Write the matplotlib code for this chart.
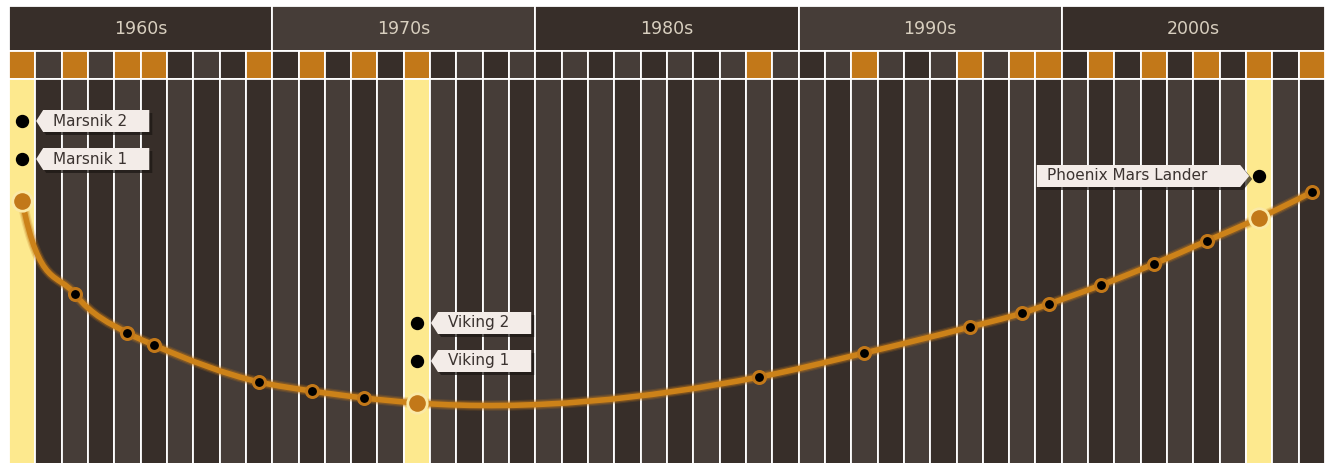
import matplotlib
matplotlib.use("Agg")
import matplotlib.pyplot as plt
import numpy as np
import matplotlib.patheffects as pe
from matplotlib.path import Path
from matplotlib.patches import PathPatch, Polygon
from matplotlib.transforms import IdentityTransform

# years with a launch (orange square) and the curve value read at each one
launch_years = [1960, 1962, 1964, 1965, 1969, 1971, 1973, 1975, 1988, 1992,
                1996, 1998, 1999, 2001, 2003, 2005, 2007, 2009]
curve_vals = [262, 169, 130, 118, 81, 72, 65, 60, 86, 110,
              136, 150, 159, 178, 199, 222, 245, 271]

decades = [1960, 1970, 1980, 1990, 2000]
decade_labels = ["1960s", "1970s", "1980s", "1990s", "2000s"]

mission_names = ["Marsnik 1", "Marsnik 2", "Viking 1", "Viking 2", "Phoenix Mars Lander"]
mission_years = [1960, 1960, 1975, 1975, 2007]

first_year, last_year = 1960, 2009

# colours
dark = "#372e29"
light = "#463d38"
orange = "#c27819"
line_c = "#cc8219"
yellow = "#fde98e"
pale = "#fbe9a6"
box_c = "#f3ece8"
txt_c = "#3b3330"
head_txt = "#d8cfbf"

W, H = 1325, 463
left_px = 9
colw = (W - left_px) / (last_year - first_year + 1)

fig = plt.figure(figsize=(W / 100, H / 100), dpi=100)
ax = fig.add_axes([0, 0, 1, 1])
ax.set_xlim(first_year - left_px / colw, last_year + 1)
ax.set_ylim(H, 0)
ax.axis("off")

years = np.arange(first_year, last_year + 1)
highlight = sorted(set(mission_years))

# decade header
ax.bar(decades, 45, bottom=6, width=10, align="edge",
       color=[dark if i % 2 == 0 else light for i in range(len(decades))],
       edgecolor="white", linewidth=1.3)
for d, lab in zip(decades, decade_labels):
    ax.text(d + 5, 29, lab, ha="center", va="center", fontsize=12.5, color=head_txt)

# launch squares
sq_cols = [orange if y in launch_years else (light if y % 2 else dark) for y in years]
ax.bar(years, 28, bottom=51, width=1, align="edge", color=sq_cols,
       edgecolor="white", linewidth=1.3)

# year columns
col_cols = [yellow if y in highlight else (dark if y % 2 else light) for y in years]
ax.bar(years, 420, bottom=79, width=1, align="edge", color=col_cols,
       edgecolor="white", linewidth=1.3)

# curve axes over the column area
axc = fig.add_axes([0, 0, 1, (H - 80) / H])
axc.set_xlim(ax.get_xlim())
axc.set_ylim(0, H - 80)
axc.axis("off")
axc.patch.set_visible(False)

xs = np.array(launch_years) + 0.5
ys = np.array(curve_vals, dtype=float)
m = np.gradient(ys, xs, edge_order=2)
m[0] *= 2.2  # curve leaves the first point almost vertically
verts = [(xs[0], ys[0])]
codes = [Path.MOVETO]
for i in range(len(xs) - 1):
    dx = xs[i + 1] - xs[i]
    verts += [(xs[i] + dx / 3, ys[i] + m[i] * dx / 3),
              (xs[i + 1] - dx / 3, ys[i + 1] - m[i + 1] * dx / 3),
              (xs[i + 1], ys[i + 1])]
    codes += [Path.CURVE4] * 3
line = PathPatch(Path(verts, codes), fill=False, edgecolor=line_c, lw=4.0,
                 capstyle="round", zorder=3,
                 path_effects=[pe.Stroke(linewidth=7.5, foreground=orange, alpha=0.2),
                               pe.Stroke(linewidth=5.8, foreground=orange, alpha=0.35),
                               pe.Normal()])
axc.add_patch(line)

big = np.isin(launch_years, highlight)
axc.plot(xs[~big], ys[~big], "o", ms=8.6, mfc="black", mec=orange, mew=2.2, zorder=4)
axc.plot(xs[big], ys[big], "o", ms=14, mfc=orange, mec=pale, mew=2, zorder=4)

# mission labels
renderer = fig.canvas.get_renderer()
to_px = IdentityTransform()
for yr in highlight:
    names = [n for n, y in zip(mission_names, mission_years) if y == yr]
    px, py = axc.transData.transform((yr + 0.5, curve_vals[launch_years.index(yr)]))
    on_left = px > W * 0.8
    for k, name in enumerate(names):
        ly = py + 42 + 38 * k
        ax.plot([px], [ly], "o", ms=8.6, color="black", transform=to_px,
                clip_on=False, zorder=6)
        if on_left:
            tip = px - 10
            body_r = tip - 9
            t = ax.text(body_r - 33, ly, name, transform=to_px, ha="right", va="center",
                        fontsize=11, color=txt_c, zorder=9)
            w = t.get_window_extent(renderer).width
            body_l = body_r - 33 - w - 10
            pts = [(tip, ly), (body_r, ly + 11), (body_l, ly + 11),
                   (body_l, ly - 11), (body_r, ly - 11)]
        else:
            tip = px + 14
            body_l = tip + 7
            t = ax.text(tip + 17, ly, name, transform=to_px, ha="left", va="center",
                        fontsize=11, color=txt_c, zorder=9)
            w = t.get_window_extent(renderer).width
            body_r = tip + 17 + w + 22
            pts = [(tip, ly), (body_l, ly + 11), (body_r, ly + 11),
                   (body_r, ly - 11), (body_l, ly - 11)]
        shadow = [(x + 3, y - 3) for x, y in pts]
        ax.add_patch(Polygon(shadow, closed=True, transform=to_px, facecolor="#1b1613",
                             edgecolor="none", alpha=0.7, zorder=7, clip_on=False))
        ax.add_patch(Polygon(pts, closed=True, transform=to_px, facecolor=box_c,
                             edgecolor="none", zorder=8, clip_on=False))

fig.savefig("out.png", dpi=100)
